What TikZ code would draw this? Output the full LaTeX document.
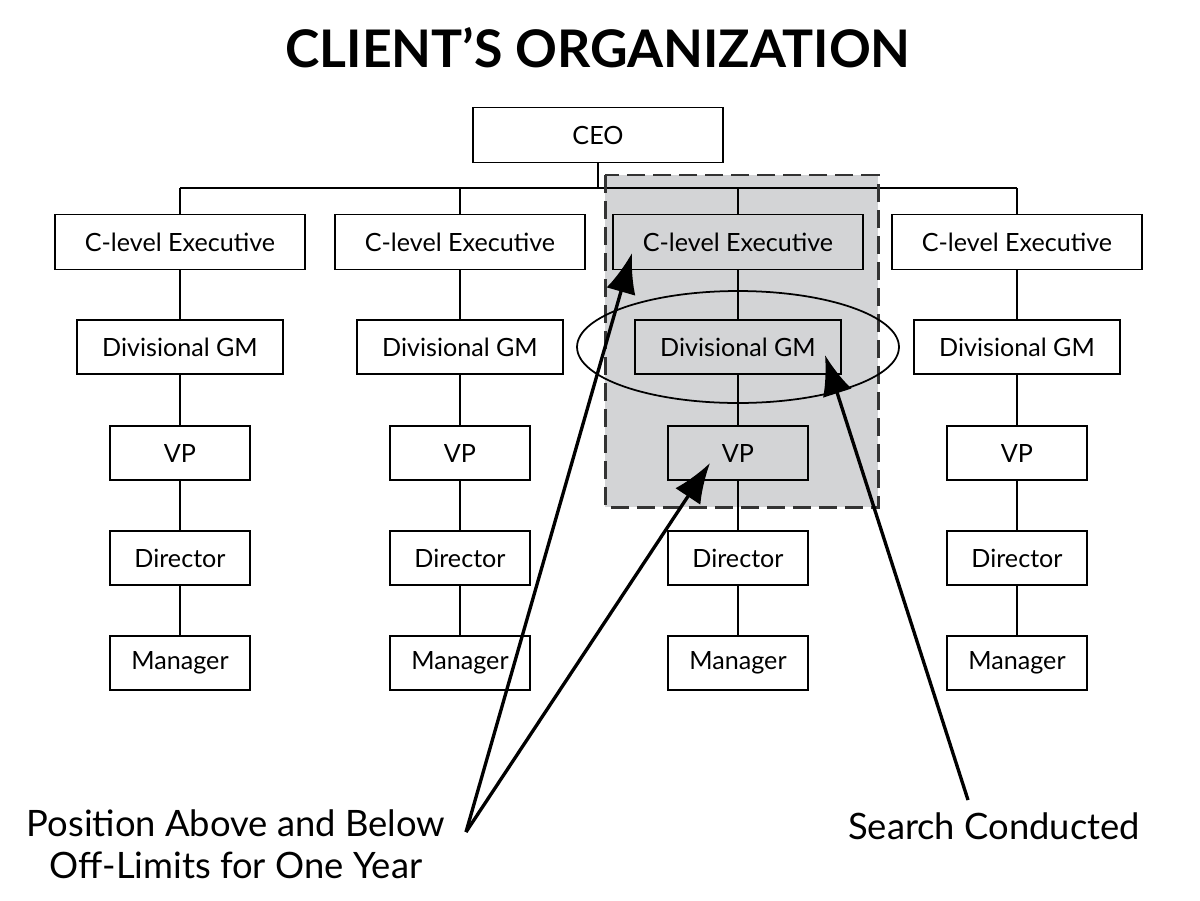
\documentclass[tikz,border=0pt]{standalone}
\usepackage{fontspec}
\setmainfont{Lato}
\usepackage{tikz}
\usetikzlibrary{shapes.geometric,positioning,arrows.meta}
\definecolor{areagray}{HTML}{D3D4D6}
\definecolor{dashgray}{HTML}{333333}
\tikzstyle{arrow} = [line width=1.9pt,-{Latex[length=0.8cm,width=0.6cm]}]
\tikzset{
 b/.style
  = {rectangle, draw, line width=1pt, text centered, font=\fontsize{14.3}{16}\selectfont},
 wide/.style
  = {b, minimum width=5cm, minimum height=1.1cm},
 mid/.style
  = {b, minimum width=4.12cm, minimum height=1.08cm},
 small/.style
  = {b, minimum width=2.8cm, minimum height=1.08cm},
 l/.style
  = {draw, line width=1pt},
 lbl/.style
  = {align=center, font=\fontsize{20.7}{24}\selectfont},
}
\begin{document}
\begin{tikzpicture}[x=0.02cm,y=-0.02cm]
\useasboundingbox (0,0) rectangle (1200,900);

% Shaded search area
\fill[areagray] (605,175) rectangle (878,507);

% Title
\node[font=\bfseries\fontsize{29.5}{34}\selectfont] (title) at (598,48) {CLIENT’S ORGANIZATION};

% CEO
\node[wide] (ceo) at (598,135) {CEO};

% Column 1
\node[wide] (c1) at (180,242) {C-level Executive};
\node[mid] (g1) at (180,347) {Divisional GM};
\node[small] (v1) at (180,453) {VP};
\node[small] (d1) at (180,558) {Director};
\node[small] (m1) at (180,663) {Manager};

% Column 2
\node[wide] (c2) at (460,242) {C-level Executive};
\node[mid] (g2) at (460,347) {Divisional GM};
\node[small] (v2) at (460,453) {VP};
\node[small] (d2) at (460,558) {Director};
\node[small] (m2) at (460,663) {Manager};

% Column 3
\node[wide] (c3) at (738,242) {C-level Executive};
\node[mid] (g3) at (738,347) {Divisional GM};
\node[small] (v3) at (738,453) {VP};
\node[small] (d3) at (738,558) {Director};
\node[small] (m3) at (738,663) {Manager};

% Column 4
\node[wide] (c4) at (1017,242) {C-level Executive};
\node[mid] (g4) at (1017,347) {Divisional GM};
\node[small] (v4) at (1017,453) {VP};
\node[small] (d4) at (1017,558) {Director};
\node[small] (m4) at (1017,663) {Manager};

% Bus under CEO
\coordinate (busL) at (180,188);
\coordinate (busR) at (1017,188);
\draw[l] (busL) -- (busR);
\draw[l] (ceo) -- (ceo |- busL);
\draw[l] (c1) -- (c1 |- busL);
\draw[l] (c2) -- (c2 |- busL);
\draw[l] (c3) -- (c3 |- busL);
\draw[l] (c4) -- (c4 |- busL);

% Reporting lines
\draw[l] (c1) -- (g1) -- (v1) -- (d1) -- (m1);
\draw[l] (c2) -- (g2) -- (v2) -- (d2) -- (m2);
\draw[l] (c3) -- (g3) -- (v3) -- (d3) -- (m3);
\draw[l] (c4) -- (g4) -- (v4) -- (d4) -- (m4);

% Dashed outline
\draw[dashgray, line width=1.7pt, dash pattern=on 0.36cm off 0.16cm] (605,175) rectangle (878,507);

% Ellipse round the searched position
\draw[line width=1pt] (g3) ellipse [x radius=3.22cm, y radius=1.12cm];

% Labels
\node[lbl] (offlim) at (236,844) {Position Above and Below\\Off-Limits for One Year};
\node[lbl] (search) at (994,826) {Search Conducted};

% Arrows
\coordinate (fromL) at (466,832);
\coordinate (fromR) at (968,800);
\coordinate (tipC) at (632,253);
\coordinate (tipV) at (710,463);
\coordinate (tipG) at (825,355);
\draw[arrow] (fromL) -- (tipC);
\draw[arrow] (fromL) -- (tipV);
\draw[arrow] (fromR) -- (tipG);

\end{tikzpicture}
\end{document}
